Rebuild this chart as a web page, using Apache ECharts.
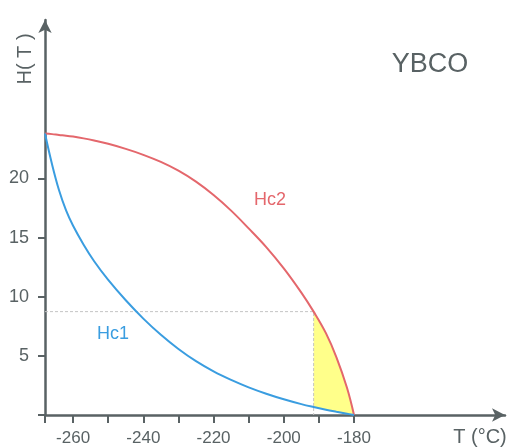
<!DOCTYPE html>
<html>
<head><meta charset="utf-8"></head>
<script type="text/javascript" src="https://cdn.jsdelivr.net/npm/echarts@6/dist/echarts.min.js"></script>
<body style="margin:0;background:#fff;">
    <div id="main" style="width:512px;height:447px;"></div>
</body>
<script type="text/javascript">
// temperature (°C) and critical fields (T)
var temps = [-268, -266, -264, -262, -260, -257, -254, -250, -245, -240, -235, -230, -225, -220, -215, -210, -205, -200, -195, -191.5, -188, -185, -182, -180]
var hc1 = [23.8, 21.2, 19.0, 17.3, 16.0, 14.4, 13.0, 11.42, 9.7, 8.15, 6.78, 5.58, 4.55, 3.69, 2.97, 2.34, 1.8, 1.33, 0.92, 0.67, 0.44, 0.27, 0.11, 0]
var hc2 = [23.8, 23.75, 23.68, 23.62, 23.54, 23.39, 23.21, 22.93, 22.5, 22.0, 21.4, 20.66, 19.73, 18.6, 17.28, 15.78, 14.2, 12.4, 10.35, 8.74, 6.92, 4.88, 2.3, 0]
// working point (dashed guide)
var workT = -191.5
var workH = 8.74
// ticks and labels
var xTicks = [-268, -260, -250, -240, -230, -220, -210, -200, -190, -180]
var xLabels = [-260, -240, -220, -200, -180]
var yTicks = [0, 5, 10, 15, 20]
var yLabels = [5, 10, 15, 20]

var axisColor = '#596264'
var font = 'Liberation Sans, Arial, sans-serif'
var red = '#e4676c'
var blue = '#3a9de0'

function pairs(ys){
    var out = []
    for (var i = 0; i < temps.length; i++) out.push([temps[i], ys[i]])
    return out
}

// indices of the yellow band (T >= working point)
var band = []
for (var i = 0; i < temps.length; i++) {
    if (temps[i] >= workT) band.push(i)
}

var myChart = echarts.init(document.getElementById('main'));
myChart.setOption({
    animation: false,
    grid: {left: 45, right: 7, top: 20, bottom: 29},
    xAxis: {
        type: 'value',
        min: -268,
        max: -137,
        axisLine: {show: true, symbol: ['none', 'arrow'], symbolSize: [10, 13],
            lineStyle: {color: axisColor, width: 2.5}},
        axisTick: {show: true, customValues: xTicks, length: 8,
            lineStyle: {color: axisColor, width: 2}},
        axisLabel: {customValues: xLabels, margin: 15, fontSize: 17, color: axisColor, fontFamily: font},
        splitLine: {show: false}
    },
    yAxis: {
        type: 'value',
        min: 0,
        max: 33.4,
        axisLine: {show: true, symbol: ['none', 'arrow'], symbolSize: [10, 13],
            lineStyle: {color: axisColor, width: 2.5}},
        axisTick: {show: true, customValues: yTicks, length: 7,
            lineStyle: {color: axisColor, width: 2}},
        axisLabel: {customValues: yLabels, margin: 16, fontSize: 18, color: axisColor, fontFamily: font},
        splitLine: {show: false}
    },
    graphic: [
        {type: 'text', x: 430, y: 65, style: {text: 'YBCO', fontSize: 27, fill: axisColor, fontFamily: font, textAlign: 'center', textVerticalAlign: 'middle'}},
        {type: 'text', x: 270, y: 200, style: {text: 'Hc2', fontSize: 18, fill: red, fontFamily: font, textAlign: 'center', textVerticalAlign: 'middle'}},
        {type: 'text', x: 113, y: 334, style: {text: 'Hc1', fontSize: 18, fill: blue, fontFamily: font, textAlign: 'center', textVerticalAlign: 'middle'}},
        {type: 'text', x: 25, y: 59, rotation: Math.PI / 2, style: {text: 'H( T )', fontSize: 20, fill: axisColor, fontFamily: font, textAlign: 'center', textVerticalAlign: 'middle'}},
        {type: 'text', x: 480, y: 437, style: {text: 'T (°C)', fontSize: 20, fill: axisColor, fontFamily: font, textAlign: 'center', textVerticalAlign: 'middle'}}
    ],
    series: [
        {
            // yellow area between Hc1 and Hc2 right of the working point
            type: 'custom',
            z: 1,
            silent: true,
            data: [[workT, workH]],
            renderItem: function(params, api){
                var pts = []
                for (var k = 0; k < band.length; k++) pts.push(api.coord([temps[band[k]], hc2[band[k]]]))
                for (var k = band.length - 1; k >= 0; k--) pts.push(api.coord([temps[band[k]], hc1[band[k]]]))
                return {type: 'polygon', shape: {points: pts}, style: {fill: '#ffff8a'}}
            }
        },
        {
            type: 'line',
            z: 2,
            data: [[-268, workH], [workT, workH], [workT, 0]],
            symbol: 'none',
            lineStyle: {color: '#c4c4c4', width: 1, type: [3, 2]}
        },
        {
            name: 'Hc2',
            type: 'line',
            z: 3,
            data: pairs(hc2),
            smooth: 0.4,
            symbol: 'none',
            lineStyle: {color: red, width: 2}
        },
        {
            name: 'Hc1',
            type: 'line',
            z: 3,
            data: pairs(hc1),
            smooth: 0.4,
            symbol: 'none',
            lineStyle: {color: blue, width: 2}
        }
    ]
});
</script>
</html>
